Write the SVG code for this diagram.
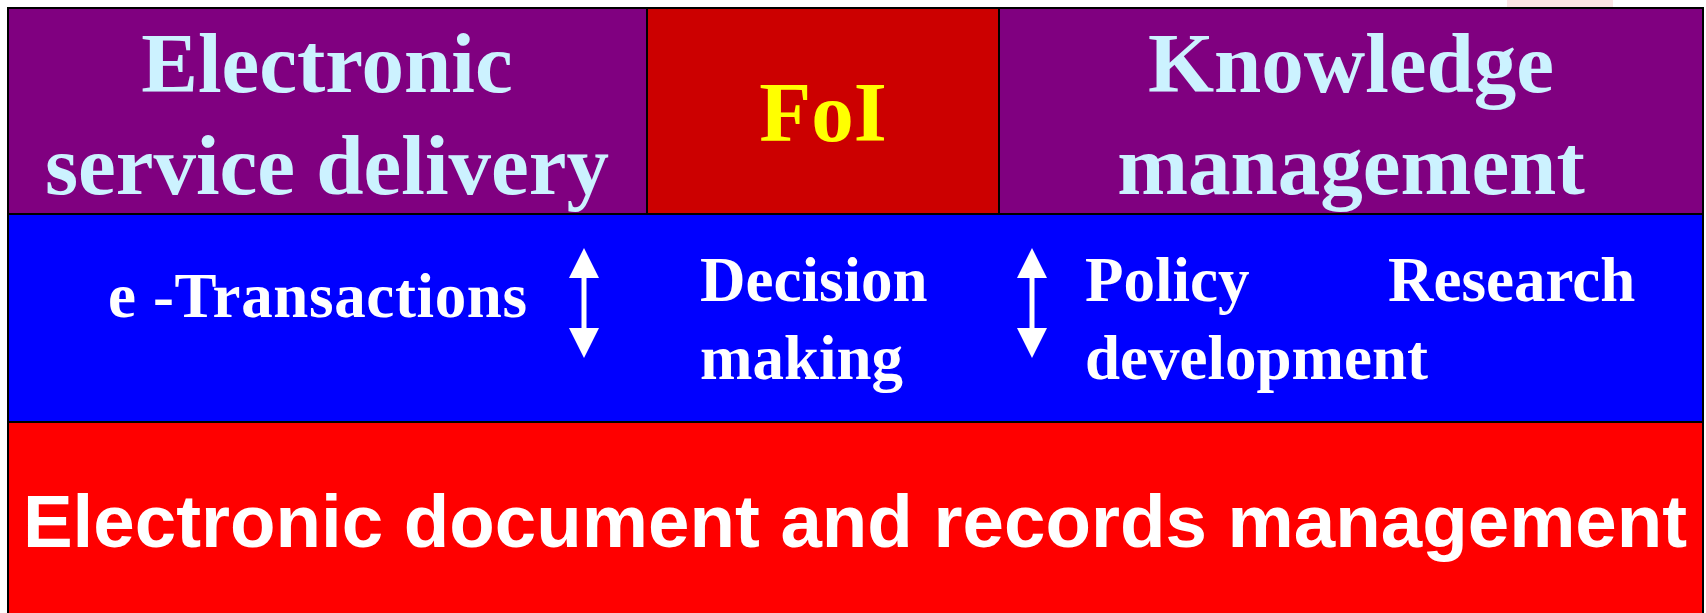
<svg xmlns="http://www.w3.org/2000/svg" width="1706" height="613" viewBox="0 0 1706 613">
<style>
.box{stroke:#000;stroke-width:2}
.big{font-family:"Liberation Serif","Times New Roman",serif;font-weight:bold;font-size:85px;text-anchor:middle}
.cy{fill:#CCF2FF}
.mid{font-family:"Liberation Serif","Times New Roman",serif;font-weight:bold;font-size:63px;fill:#FFFFFF}
.base{font-family:"Liberation Sans",Arial,sans-serif;font-weight:bold;font-size:74.5px;fill:#FFFFFF;text-anchor:middle}
.arr{fill:#FFFFFF}
</style>
<defs>
<g id="dblarrow">
<polygon class="arr" points="0,0 15,30 2.5,30 2.5,80 15,80 0,110 -15,80 -2.5,80 -2.5,30 -15,30"/>
</g>
</defs>
<rect x="0" y="0" width="1706" height="613" fill="#FFFFFF"/>
<rect x="1507" y="0" width="106" height="7" fill="#FCE4E4"/>
<g id="esd">
<rect class="box" x="8" y="8" width="639" height="206" fill="#800080"/>
<text class="big cy" x="327" y="92">Electronic</text>
<text class="big cy" x="327" y="194">service delivery</text>
</g>
<g id="foi">
<rect class="box" x="647" y="8" width="352" height="206" fill="#CC0000"/>
<text class="big" x="823" y="141" fill="#FFFF00">FoI</text>
</g>
<g id="km">
<rect class="box" x="999" y="8" width="704" height="206" fill="#800080"/>
<text class="big cy" x="1351" y="92">Knowledge</text>
<text class="big cy" x="1351" y="194">management</text>
</g>
<g id="middle">
<rect class="box" x="8" y="214" width="1695" height="208" fill="#0000FF"/>
<text class="mid" x="108" y="317" textLength="419" lengthAdjust="spacing">e -Transactions</text>
<text class="mid" x="700" y="301">Decision</text>
<text class="mid" x="700" y="379">making</text>
<text class="mid" x="1085" y="301">Policy</text>
<text class="mid" x="1085" y="379">development</text>
<text class="mid" x="1388" y="301">Research</text>
</g>
<g id="connectors">
<use href="#dblarrow" x="584" y="248"/>
<use href="#dblarrow" x="1032" y="248"/>
</g>
<g id="edrm">
<rect class="box" x="8" y="422" width="1695" height="200" fill="#FF0000"/>
<text class="base" x="855" y="547">Electronic document and records management</text>
</g>
</svg>
